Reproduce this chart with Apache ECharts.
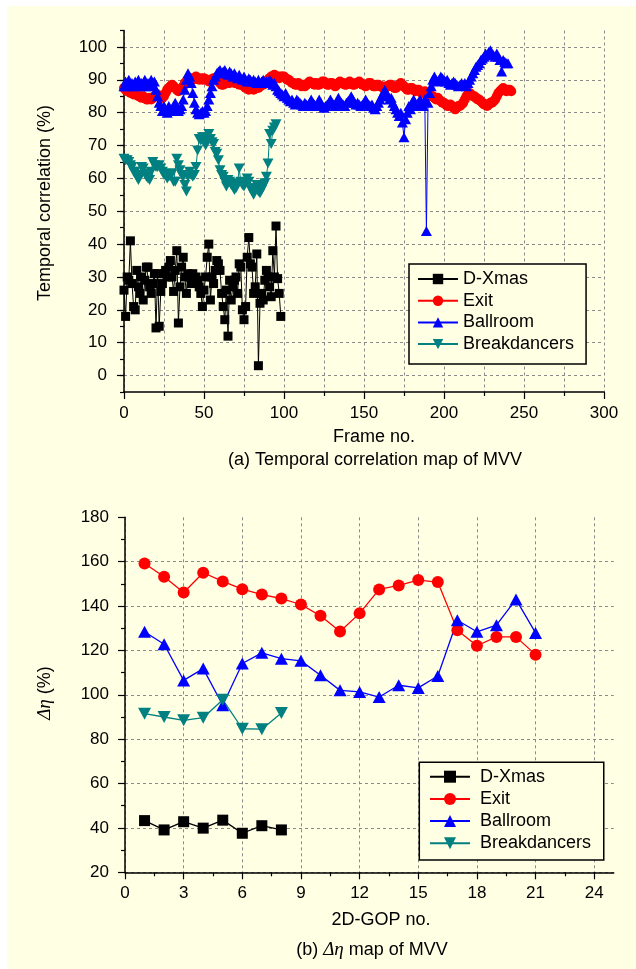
<!DOCTYPE html>
<html>
<head>
<meta charset="utf-8">
<script src="https://cdn.jsdelivr.net/npm/echarts@6/dist/echarts.min.js"></script>
<style>
html, body { margin: 0; padding: 0; background: #fff; }
#chart { width: 636px; height: 969px; }
</style>
</head>
<body>
<div id="chart"></div>
<script>
// (a) temporal correlation (%), one value per frame, starting at frame 0
const dxmasCorr = [
    26, 18, 30, 29, 41, 28, 21, 20, 32, 27,
    25, 30, 23, 29, 33, 33, 27, 25, 28, 31,
    14.5, 31, 15, 25.6, 28, 31, 32, 30, 33, 35,
    30, 25.6, 32, 38, 16, 27, 33, 36, 30, 25,
    31, 30, 28, 31, 29, 30, 29, 27, 25, 21,
    26, 30, 36, 40, 23, 30, 28, 32, 35, 34,
    32, 25, 21, 17, 26, 12, 29, 23, 27, 29,
    30, 25, 34, 33, 20, 17, 21, 36, 42, 34,
    33, 25, 27, 37, 3, 22, 25, 23, 29, 32,
    30, 27, 24, 38, 30, 45.5, 29.5, 25, 18
];
const exitCorr = [
    87.5, 87, 86.5, 86.5, 86, 86, 85.5, 86, 85.5, 85,
    85, 84.5, 85, 84.5, 84, 84, 84.5, 84, 84.5, 85,
    85, 85.5, 85, 84.5, 84.5, 85, 86, 87, 87.5, 88,
    88.5, 88, 87.5, 87, 86.5, 87, 87.5, 88, 89, 89.5,
    90, 90, 90.5, 90, 90.5, 91, 90.5, 90, 90.5, 90,
    90.5, 90, 90, 89.5, 90, 90, 90.5, 90.5, 90, 89.5,
    89, 88.5, 88.5, 89, 89.5, 89, 89, 89.5, 89.5, 89,
    89, 89, 88.5, 89, 88.5, 88, 87.5, 87.5, 87, 87.5,
    87.5, 87, 87.5, 88, 87.5, 88, 88.5, 88.5, 89, 89.5,
    90, 90.5, 91, 91, 91.5, 91, 91, 90.5, 91, 91,
    91, 90.5, 90, 90, 89.5, 89, 89, 88.5, 88.5, 89,
    88.5, 88, 88.5, 88, 88.5, 89, 89.5, 89, 89, 88.5,
    89, 88.5, 88.5, 89, 89.5, 89.5, 89, 88.5, 88.5, 89,
    89, 88.5, 88, 88.5, 89, 89.5, 89, 89, 88.5, 88.5,
    89, 89.5, 89, 88.5, 88.5, 89, 89, 89.5, 89, 88.5,
    88.5, 88, 88.5, 89, 89, 88.5, 88, 88, 88.5, 88.5,
    88, 88, 87.5, 87.5, 88, 88, 88.5, 88.5, 88, 87.5,
    87.5, 88, 88.5, 89, 88.5, 88, 87.5, 87, 87, 87.5,
    87.5, 87, 86.5, 87, 87, 86.5, 86, 86, 86.5, 86,
    85.5, 85.5, 85, 85, 84.5, 84, 84.5, 84, 83.5, 83,
    83, 82.5, 82, 82, 82.5, 82, 81.5, 81, 81.5, 82,
    82, 82.5, 83, 84, 85, 85.5, 86, 85.5, 85, 85,
    84.5, 84, 84, 83.5, 83, 82.5, 82.5, 82, 82.5, 83,
    83, 83.5, 84, 85, 86, 86.5, 87, 87.5, 87, 86.5,
    87, 87, 86.5
];
const ballroomCorr = [
    88, 89.5, 88, 90, 88.5, 89, 88, 89.5, 88.5, 90,
    88, 89, 88.5, 90, 88, 89, 88, 90, 88.5, 89.5,
    87, 85, 83, 82, 80.5, 82, 81, 80, 82, 81,
    80.5, 82, 83, 81, 80.5, 81, 82, 84, 87, 90,
    92, 91, 89, 86, 83, 81, 80, 79.5, 80, 80.5,
    80, 80.5, 82, 84, 86, 88, 90, 91, 92, 92.5,
    93, 92, 92.5, 93, 92, 91.5, 92.5, 92, 91, 92,
    91, 90.5, 91.5, 90.5, 90, 91, 90, 89.5, 90.5, 90,
    89.5, 90, 89.5, 89, 90, 89, 89.5, 90, 89, 89.5,
    89, 90, 89.5, 88.5, 89, 88, 87, 86.5, 86, 85.5,
    85, 86, 84.5, 84, 83.5, 84, 83, 82.5, 84, 83.5,
    83, 82.5, 82, 83, 82.5, 82, 83, 84, 83, 82.5,
    82, 82.5, 84, 83, 82, 81.5, 82, 82.5, 83, 84,
    83, 82.5, 82, 83, 84.5, 83.5, 83, 82.5, 82, 83,
    83.5, 84, 85, 84, 83, 82.5, 83, 82.5, 82, 82.5,
    83, 84, 83, 82.5, 82, 82.5, 81.5, 81, 82, 83,
    84, 85, 86, 87, 86, 85, 84, 84.5, 83, 82,
    81, 80, 79, 80, 77, 72.5, 78, 80, 82, 81,
    83, 84, 83, 82, 83, 84, 83, 82, 84, 44,
    83, 86, 88, 90, 91, 90, 89.5, 90, 91, 90.5,
    90, 89.5, 90, 89, 88.5, 89, 89.5, 89, 88.5, 88,
    88.5, 89, 88.5, 89, 88, 89, 90, 91, 92, 93,
    94, 94.5, 95, 96, 96.5, 97, 98, 97.5, 98.5, 99,
    98, 97.5, 97, 98, 97, 96, 92.5, 96, 95.5, 95,
    95
];
const breakCorr = [
    66, 65.5, 65.5, 65, 64, 63.5, 62, 62, 60.5, 59.5,
    61, 63.5, 63, 61.5, 60.5, 60, 59.5, 62, 65, 64,
    63.5, 63.5, 64, 63, 62, 61, 61, 60, 60.5, 61.5,
    61.5, 59, 59, 66, 64, 62.5, 61, 60.5, 58, 56,
    60.5, 62, 61, 60.5, 61, 63.5, 68.5, 72, 71.5, 72.5,
    72.5, 70, 71.5, 73.5, 72, 71, 70.5, 68, 67.5, 65.5,
    62.5, 61, 60.5, 59, 57.5, 59.5, 59, 58, 57.5, 56.5,
    57, 58.5, 63, 59, 58, 57.5, 58.5, 60, 59, 57,
    56, 55, 57, 58, 56, 55.5, 56.5, 57.5, 58.5, 60.5,
    64.5, 73.5, 70.5, 74.5, 75.5, 76.5
];

// (b) delta eta (%), one value per 2D-GOP, starting at GOP 1
const dxmasEta = [43.3, 39.1, 42.8, 39.9, 43.5, 37.6, 41, 39.1];
const exitEta = [159.2, 153.2, 146.1, 155, 151.1, 147.6, 145.2, 143.4, 140.7, 135.6, 128.5,
    136.7, 147.5, 149.3, 151.7, 150.8, 129.1, 122.1, 126.1, 126.1, 118.1];
const ballroomEta = [128.4, 122.8, 106.5, 111.8, 95.3, 114.1, 118.9, 116.3, 115.3, 108.8, 102,
    101.3, 99, 104.3, 103.1, 108.5, 133.6, 128.4, 131.4, 143, 127.9];
const breakEta = [91.5, 90, 88.5, 89.7, 97.8, 84.7, 84.5, 91.8];

// tick labels
const corrTicks = [0, 10, 20, 30, 40, 50, 60, 70, 80, 90, 100];
const gopTicks = [0, 3, 6, 9, 12, 15, 18, 21, 24];

const seriesNames = ['D-Xmas', 'Exit', 'Ballroom', 'Breakdancers'];
const seriesColors = ['#000000', '#ff0000', '#0000ff', '#008080'];

const FONT = 'Liberation Sans, Arial, sans-serif';
const BG = '#ffffe4';
const gridDash = { color: '#8a8a8a', width: 1, type: [3, 3] };

function byIndex(vals, start) {
    return vals.map((v, i) => [i + start, v]);
}

function makeSeries(name, data, xi, yi, big) {
    const k = seriesNames.indexOf(name);
    const sym = ['rect', 'circle', 'triangle', 'triangle'][k];
    let size;
    if (sym === 'rect') size = big ? 11 : 9;
    else if (sym === 'circle') size = big ? 12 : 10;
    else size = big ? [13, 12] : [11, 10];
    return {
        name: name,
        type: 'line',
        xAxisIndex: xi,
        yAxisIndex: yi,
        data: data,
        symbol: sym,
        symbolSize: size,
        symbolRotate: k === 3 ? 180 : 0,
        showAllSymbol: true,
        color: seriesColors[k],
        lineStyle: { color: seriesColors[k], width: big ? 1.3 : 1 },
        itemStyle: { color: seriesColors[k] },
        emphasis: { disabled: true }
    };
}

const chart = echarts.init(document.getElementById('chart'));

const axisText = { color: '#000', fontSize: 17, fontFamily: FONT };
const blackLine = { color: '#000', width: 1.5 };

chart.setOption({
    animation: false,
    backgroundColor: '#fff',
    grid: [
        { left: 124, top: 30.5, width: 480, height: 361.5 },
        { left: 125, top: 517.3, width: 488.75, height: 355 }
    ],
    xAxis: [
        {
            gridIndex: 0, type: 'value', min: 0, max: 300, interval: 50,
            axisLine: { onZero: false, lineStyle: blackLine },
            axisTick: { length: 7, lineStyle: { color: '#000', width: 1.2 } },
            minorTick: { show: true, splitNumber: 2, length: 4, lineStyle: { color: '#000', width: 1.2 } },
            axisLabel: Object.assign({ margin: 12.5 }, axisText),
            splitLine: { show: true, lineStyle: gridDash },
            minorSplitLine: { show: true, lineStyle: gridDash }
        },
        {
            gridIndex: 1, type: 'value', min: 0, max: 25, interval: 3,
            axisLine: { onZero: false, lineStyle: blackLine },
            axisTick: { customValues: gopTicks, length: 7, lineStyle: { color: '#000', width: 1.2 } },
            minorTick: { show: true, splitNumber: 2, length: 4, lineStyle: { color: '#000', width: 1.2 } },
            axisLabel: Object.assign({ customValues: gopTicks, margin: 12.5 }, axisText),
            splitLine: { show: true, lineStyle: gridDash }
        }
    ],
    yAxis: [
        {
            gridIndex: 0, type: 'value', min: -5, max: 105, interval: 5,
            axisLine: { onZero: false, lineStyle: blackLine },
            axisTick: { customValues: corrTicks, length: 7, lineStyle: { color: '#000', width: 1.2 } },
            axisLabel: Object.assign({ customValues: corrTicks, margin: 17 }, axisText),
            splitLine: { show: true, lineStyle: gridDash }
        },
        {
            // short ticks every 5 on panel (a)
            gridIndex: 0, type: 'value', min: -5, max: 105, interval: 5, position: 'left',
            axisLine: { show: false },
            axisTick: { length: 4, lineStyle: { color: '#000', width: 1.2 } },
            axisLabel: { show: false },
            splitLine: { show: false }
        },
        {
            gridIndex: 1, type: 'value', min: 20, max: 180, interval: 20,
            axisLine: { onZero: false, lineStyle: blackLine },
            axisTick: { length: 7, lineStyle: { color: '#000', width: 1.2 } },
            minorTick: { show: true, splitNumber: 2, length: 4, lineStyle: { color: '#000', width: 1.2 } },
            axisLabel: Object.assign({ margin: 16 }, axisText),
            splitLine: {
                show: true,
                lineStyle: {
                    color: ['#8a8a8a', '#8a8a8a', '#8a8a8a', '#8a8a8a', '#8a8a8a', '#8a8a8a', '#8a8a8a', '#8a8a8a', 'transparent'],
                    width: 1, type: [3, 3]
                }
            }
        }
    ],
    legend: [
        {
            data: seriesNames, orient: 'vertical', left: 409, top: 264,
            padding: [5, 12, 10, 8], itemGap: 1.7, itemWidth: 40, itemHeight: 13,
            borderColor: '#000', borderWidth: 1.5, backgroundColor: BG,
            selectedMode: false,
            textStyle: { color: '#000', fontSize: 18, lineHeight: 20, fontFamily: FONT }
        },
        {
            data: seriesNames, orient: 'vertical', left: 419.3, top: 762.3,
            padding: [4.4, 12.7, 6.7, 9.7], itemGap: 2.2, itemWidth: 40, itemHeight: 15,
            borderColor: '#000', borderWidth: 1.5, backgroundColor: BG,
            selectedMode: false,
            textStyle: { color: '#000', fontSize: 18, lineHeight: 20, fontFamily: FONT, padding: [0, 0, 0, 5] }
        }
    ],
    graphic: [
        { type: 'rect', z: -10, silent: true, shape: { x: 7, y: 6, width: 629, height: 963 }, style: { fill: BG } },
        { type: 'text', x: 45, y: 203, rotation: Math.PI / 2, silent: true,
            style: { text: 'Temporal correlation (%)', fill: '#000', font: '18px ' + FONT, align: 'center', verticalAlign: 'middle' } },
        { type: 'text', x: 374, y: 437, silent: true,
            style: { text: 'Frame no.', fill: '#000', font: '18px ' + FONT, align: 'center', verticalAlign: 'middle' } },
        { type: 'text', x: 375, y: 460, silent: true,
            style: { text: '(a) Temporal correlation map of MVV', fill: '#000', font: '18px ' + FONT, align: 'center', verticalAlign: 'middle' } },
        { type: 'text', x: 45, y: 693, rotation: Math.PI / 2, silent: true,
            style: {
                text: '{i|Δη} (%)', fill: '#000', font: '18px ' + FONT, align: 'center', verticalAlign: 'middle',
                rich: { i: { fontStyle: 'italic', fontFamily: 'Liberation Serif, serif', fontSize: 19, fill: '#000' } }
            } },
        { type: 'text', x: 381, y: 920, silent: true,
            style: { text: '2D-GOP no.', fill: '#000', font: '18px ' + FONT, align: 'center', verticalAlign: 'middle' } },
        { type: 'text', x: 372, y: 950, silent: true,
            style: {
                text: '(b) {i|Δη} map of MVV', fill: '#000', font: '18px ' + FONT, align: 'center', verticalAlign: 'middle',
                rich: { i: { fontStyle: 'italic', fontFamily: 'Liberation Serif, serif', fontSize: 19, fill: '#000' } }
            } }
    ],
    series: [
        makeSeries('D-Xmas', byIndex(dxmasCorr, 0), 0, 0, false),
        makeSeries('Exit', byIndex(exitCorr, 0), 0, 0, false),
        makeSeries('Ballroom', byIndex(ballroomCorr, 0), 0, 0, false),
        makeSeries('Breakdancers', byIndex(breakCorr, 0), 0, 0, false),
        makeSeries('D-Xmas', byIndex(dxmasEta, 1), 1, 2, true),
        makeSeries('Exit', byIndex(exitEta, 1), 1, 2, true),
        makeSeries('Ballroom', byIndex(ballroomEta, 1), 1, 2, true),
        makeSeries('Breakdancers', byIndex(breakEta, 1), 1, 2, true)
    ]
});
</script>
</body>
</html>
